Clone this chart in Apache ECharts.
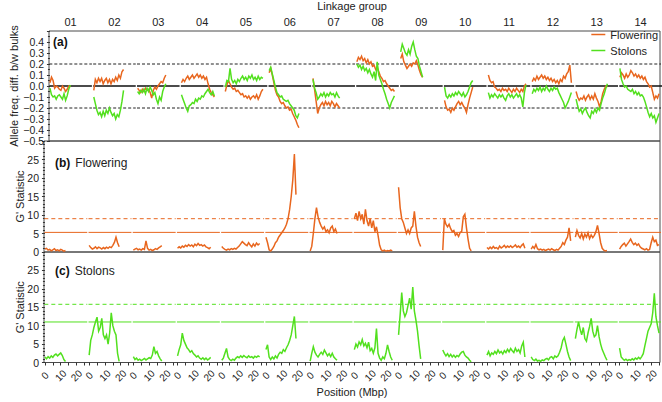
<!DOCTYPE html>
<html>
<head>
<meta charset="utf-8">
<script src="https://cdn.jsdelivr.net/npm/echarts@6/dist/echarts.min.js"></script>
<style>
html,body{margin:0;padding:0;background:#fff;}
#chart{width:662px;height:402px;}
</style>
</head>
<body>
<div id="chart"></div>
<script>
// ---------- data ----------
const groupLabels = ['01','02','03','04','05','06','07','08','09','10','11','12','13','14'];
const SLOT = 28;            // Mbp allotted to each linkage-group facet
const posLabels = [0, 10, 20];
const posTicks = [0, 5, 10, 15, 20, 25];

// Allele frequency difference between bulks, 1 Mbp steps from 0
const freqFlowering = [
  [0.03,0.08,0.05,-0.02,0.00,-0.01,-0.03,-0.04,0.00,-0.02,-0.05,-0.03,0.00,-0.01],
  [-0.04,0.06,0.03,0.07,0.04,0.07,0.02,0.05,0.07,0.03,0.06,0.02,0.06,0.04,0.08,0.05,0.10,0.07,0.13,0.15],
  [-0.02,-0.04,-0.06,-0.03,-0.05,-0.02,-0.04,-0.03,-0.06,-0.11,-0.04,-0.01,-0.03,0.00,0.02,0.04,0.03,0.07,0.10],
  [0.03,0.06,0.04,0.07,0.09,0.06,0.08,0.10,0.07,0.09,0.11,0.08,0.10,0.07,0.09,0.06,0.08,0.02,-0.03,-0.06,-0.08,-0.10],
  [-0.05,0.01,0.05,0.02,-0.01,-0.03,-0.02,-0.05,-0.04,-0.06,-0.08,-0.07,-0.10,-0.09,-0.11,-0.09,-0.12,-0.10,-0.09,-0.11,-0.08,-0.12,-0.09,-0.05,-0.03],
  [0.12,0.16,0.10,0.03,-0.04,-0.08,-0.10,-0.14,-0.16,-0.15,-0.18,-0.20,-0.19,-0.22,-0.21,-0.25,-0.28,-0.31,-0.35,-0.38],
  [0.07,-0.03,-0.14,-0.25,-0.20,-0.17,-0.15,-0.18,-0.14,-0.17,-0.15,-0.18,-0.14,-0.16,-0.19,-0.16,-0.18,-0.20],
  [0.22,0.26,0.24,0.27,0.23,0.25,0.21,0.24,0.20,0.22,0.18,0.19,0.15,0.17,0.13,0.09,0.07,0.04,0.05,0.02,0.00,-0.02,-0.04,-0.03,-0.05],
  [0.25,0.29,0.22,0.19,0.16,0.18,0.20,0.18,0.21,0.20,0.23,0.19,0.14,0.10,0.08],
  [-0.13,-0.19,-0.22,-0.21,-0.24,-0.20,-0.22,-0.19,-0.16,-0.14,-0.17,-0.15,-0.18,-0.20,-0.24,-0.17,-0.11,-0.06,-0.01],
  [0.10,0.05,0.03,0.04,-0.01,-0.02,-0.04,-0.03,-0.05,-0.02,-0.04,-0.03,-0.05,-0.02,-0.04,-0.06,-0.03,-0.05,-0.02,-0.04,-0.06,-0.03,-0.05,0.00,0.02],
  [0.04,0.07,0.05,0.09,0.06,0.08,0.10,0.07,0.09,0.06,0.08,0.05,0.07,0.04,0.06,0.03,0.05,0.02,0.06,0.04,0.09,0.07,0.11,0.13,0.19,0.03],
  [-0.05,-0.10,-0.13,-0.11,-0.12,-0.09,-0.13,-0.10,-0.08,-0.12,-0.09,-0.12,-0.07,-0.11,-0.14,-0.19,-0.14,-0.07,-0.03,0.00,-0.01],
  [0.08,0.12,0.10,0.07,0.11,0.08,0.10,0.14,0.12,0.09,0.11,0.08,0.10,0.07,0.09,0.06,0.08,0.04,0.02,-0.01,0.00,-0.06,-0.12,-0.09,-0.11,-0.07]
];
const freqStolons = [
  [-0.02,-0.08,-0.10,-0.09,-0.12,-0.09,-0.08,-0.10,-0.12,-0.07,-0.13,-0.09,-0.03,0.01],
  [-0.10,-0.16,-0.22,-0.26,-0.24,-0.28,-0.23,-0.27,-0.22,-0.25,-0.20,-0.24,-0.27,-0.25,-0.30,-0.26,-0.28,-0.22,-0.14,-0.04],
  [-0.05,-0.07,-0.04,-0.06,-0.03,-0.07,-0.02,-0.05,-0.01,-0.04,-0.08,-0.06,-0.12,-0.16,-0.10,-0.13,-0.05,-0.01,0.02],
  [-0.08,-0.12,-0.16,-0.20,-0.23,-0.18,-0.17,-0.15,-0.16,-0.12,-0.14,-0.11,-0.12,-0.09,-0.10,-0.07,-0.05,-0.03,-0.06,-0.08,-0.05,-0.09],
  [-0.01,0.05,0.04,0.16,0.06,0.03,0.05,0.02,0.06,0.04,0.07,0.09,0.06,0.08,0.05,0.09,0.07,0.10,0.06,0.08,0.05,0.09,0.06,0.08,0.07],
  [0.14,0.17,0.11,0.05,-0.01,-0.06,-0.08,-0.10,-0.09,-0.12,-0.13,-0.14,-0.13,-0.16,-0.18,-0.20,-0.22,-0.27,-0.29,-0.25],
  [0.06,-0.02,-0.06,-0.12,-0.10,-0.07,-0.09,-0.06,-0.10,-0.07,-0.09,-0.06,-0.08,-0.07,-0.10,-0.06,-0.09,-0.11],
  [0.20,0.17,0.19,0.15,0.18,0.14,0.16,0.12,0.15,0.11,0.08,0.13,0.05,0.22,0.10,0.06,0.02,-0.03,-0.07,-0.12,-0.16,-0.20,-0.15,-0.12,-0.09],
  [0.31,0.38,0.34,0.30,0.28,0.33,0.29,0.36,0.40,0.33,0.27,0.25,0.18,0.13,0.08],
  [-0.01,-0.09,-0.11,-0.08,-0.10,-0.07,-0.09,-0.06,-0.08,-0.05,-0.07,-0.09,-0.06,-0.10,-0.08,-0.05,-0.01,0.03,0.05],
  [-0.06,-0.11,-0.08,-0.10,-0.07,-0.09,-0.11,-0.08,-0.10,-0.08,-0.11,-0.13,-0.09,-0.07,-0.10,-0.08,-0.11,-0.09,-0.07,-0.10,-0.08,-0.11,-0.19,-0.06,0.01],
  [-0.07,-0.03,-0.05,-0.02,-0.04,-0.01,-0.05,-0.02,-0.04,0.00,-0.03,-0.05,-0.02,-0.04,-0.01,-0.03,-0.02,-0.06,-0.09,-0.12,-0.15,-0.20,-0.17,-0.14,-0.10,-0.06],
  [-0.12,-0.18,-0.23,-0.21,-0.25,-0.22,-0.20,-0.24,-0.27,-0.29,-0.23,-0.25,-0.21,-0.24,-0.20,-0.22,-0.16,-0.11,-0.07,-0.02,0.02],
  [0.16,0.06,0.02,-0.01,0.00,-0.03,-0.04,-0.05,-0.03,-0.07,-0.05,-0.08,-0.06,-0.09,-0.08,-0.10,-0.14,-0.19,-0.24,-0.28,-0.25,-0.29,-0.27,-0.33,-0.29,-0.25]
];

// G' statistic, 1 Mbp steps from 0
const gFlowering = [
  [0.8,1.0,0.5,0.7,0.3,0.6,0.9,0.4,0.6,0.3,0.7,0.5,0.2,0.4],
  [1.8,1.2,0.8,1.0,1.4,0.9,1.3,1.1,0.8,1.2,0.9,1.3,1.0,1.4,1.2,1.8,2.6,4.0,2.5,1.4],
  [0.5,0.8,1.0,0.6,0.8,0.5,0.9,0.7,3.0,1.0,0.5,0.7,0.4,0.6,0.9,0.7,1.1,1.4,1.7],
  [1.0,1.4,1.1,1.6,1.3,1.8,1.5,2.0,1.6,1.9,1.4,2.1,1.7,2.3,1.8,2.0,1.6,1.9,1.4,1.2,0.9,1.3],
  [1.5,1.0,0.7,0.5,0.8,0.6,0.9,0.7,1.0,0.8,1.2,1.6,2.2,2.8,2.4,2.0,1.7,2.5,1.9,1.4,2.2,1.6,2.4,1.9,2.3],
  [4.0,2.5,0.6,0.3,0.8,1.5,2.5,3.0,4.0,4.6,5.2,5.8,6.5,7.5,9.0,11.5,15.0,19.5,26.5,15.5],
  [0.3,1.5,5.0,9.0,12.0,9.5,8.0,7.0,6.2,6.8,5.5,6.0,5.2,6.5,7.0,5.5,6.2,5.0],
  [9.0,10.5,8.5,11.0,9.0,10.2,7.5,11.5,8.5,7.0,9.0,6.5,8.5,5.5,6.8,4.5,1.8,0.6,0.3,0.5,0.2,0.4,0.3,0.5,0.3],
  [17.5,12.0,9.0,8.0,6.5,5.0,6.0,5.0,6.5,7.0,11.0,7.0,4.0,2.5,1.5],
  [0.5,9.0,7.5,6.8,7.5,6.3,5.5,5.8,4.5,5.0,4.2,5.3,5.6,9.5,10.2,6.5,3.5,1.0,0.3],
  [1.2,0.8,1.3,0.9,1.5,1.0,1.2,0.8,1.6,1.1,1.4,1.8,1.2,1.6,1.3,1.7,1.2,1.5,1.9,1.3,1.6,1.2,1.8,2.2,1.0],
  [0.8,1.5,1.0,2.0,0.9,0.6,0.8,0.5,0.7,0.4,0.6,0.8,0.5,0.9,0.6,0.4,0.7,0.5,1.0,1.5,2.5,2.0,3.2,4.0,6.5,3.0],
  [4.0,5.8,4.5,3.8,5.0,3.5,4.8,4.0,5.2,3.6,4.6,3.9,4.5,5.5,7.2,5.0,2.5,1.0,0.5,0.3,0.4],
  [0.8,1.5,2.0,2.4,1.6,2.2,2.8,3.5,2.6,2.0,2.4,1.8,2.2,1.4,1.0,0.8,0.6,0.9,0.5,0.7,2.5,4.0,2.8,3.2,1.8,2.0]
];
const gStolons = [
  [1.5,1.0,1.6,1.2,1.8,1.4,2.0,2.3,1.8,2.2,2.6,1.9,0.8,0.3],
  [2.0,6.0,7.5,9.5,11.0,12.3,8.5,9.5,12.0,7.5,6.5,7.5,5.0,8.0,13.5,10.0,8.5,7.5,2.5,0.3],
  [1.6,0.8,1.2,0.6,0.9,0.5,0.8,1.1,0.7,1.0,1.3,1.1,2.0,4.3,2.5,3.0,1.8,1.0,0.4],
  [1.8,3.5,4.8,8.0,6.0,5.0,4.0,3.5,2.8,3.2,2.4,2.0,1.5,1.8,1.2,0.9,1.3,0.8,1.2,0.7,1.0,1.4],
  [0.6,1.2,2.5,3.8,1.5,0.8,0.5,0.9,0.6,1.2,1.6,1.3,1.8,1.4,1.9,1.5,1.3,1.8,1.4,1.6,1.2,1.7,1.4,1.8,1.5],
  [3.5,4.8,1.5,0.8,1.5,1.0,1.8,1.2,2.2,2.8,2.5,3.5,3.0,4.0,4.8,6.0,7.5,10.0,12.5,6.5],
  [0.4,2.5,4.3,2.8,2.0,1.5,2.2,2.8,2.2,3.4,2.6,1.8,2.4,1.6,2.5,1.5,1.0,0.6],
  [3.5,5.0,4.2,5.6,4.8,6.2,4.5,5.2,4.0,5.5,3.2,3.8,2.5,4.0,9.2,2.5,1.2,0.6,1.5,1.0,2.5,4.8,3.0,1.5,0.6],
  [7.5,13.0,19.0,14.0,12.5,13.5,15.5,17.5,14.5,20.5,14.0,11.5,8.5,4.5,1.0],
  [3.4,2.5,1.8,2.4,1.6,2.2,1.5,2.0,1.4,1.9,1.6,2.3,2.8,3.0,2.0,1.5,1.2,0.6,0.2],
  [2.0,3.0,1.8,2.6,2.2,3.0,2.4,3.4,2.6,3.0,2.3,3.2,2.7,3.6,2.9,3.8,3.2,2.7,3.9,3.0,3.5,2.6,4.5,5.5,1.5],
  [1.5,0.8,0.5,0.9,0.4,0.6,0.3,0.7,0.5,0.9,1.1,0.7,1.4,1.6,1.0,1.8,1.4,1.8,2.8,4.0,6.0,6.8,5.0,3.0,1.5,0.5],
  [6.5,9.0,11.0,9.0,7.5,9.5,6.5,5.8,8.0,9.8,12.0,8.5,7.0,7.5,10.0,7.0,5.0,3.5,2.5,1.5,0.6],
  [3.9,1.5,1.0,0.6,0.9,0.5,0.8,0.6,1.0,0.7,1.2,0.9,1.4,1.0,1.6,2.4,4.5,6.5,8.5,9.5,10.5,13.5,18.8,12.5,10.0,8.0]
];

// reference lines
const freqZero = 0;
const freqThresholds = [0.2, -0.2];
const floweringThresholds = { solid: 5.3, dashed: 9.0 };
const stolonsThresholds = { solid: 11.0, dashed: 15.8 };

// ---------- build ----------
const NG = groupLabels.length;
const XMIN = -0.6, XMAX = 389.6;
const ORANGE = '#E8661E', GREEN = '#52E01E';
const FONT = 'Liberation Sans, Arial, Helvetica, sans-serif';

function buildLine(groups) {
  const out = [];
  groups.forEach((vals, g) => {
    vals.forEach((v, i) => out.push([g * SLOT + i, v]));
    out.push([g * SLOT + vals.length - 0.5, null]);
  });
  return out;
}
function buildSegs(y) {
  const out = [];
  for (let g = 0; g < NG; g++) {
    const a = g * SLOT - 0.4, b = (g === NG - 1) ? XMAX + 5 : g * SLOT + 26.8;
    out.push([a, y], [b, y], [b + 0.1, null]);
  }
  return out;
}
const tickVals = [], labelVals = [], centerVals = [];
for (let g = 0; g < NG; g++) {
  posTicks.forEach(p => tickVals.push(g * SLOT + p));
  posLabels.forEach(p => labelVals.push(g * SLOT + p));
  centerVals.push(g * SLOT + 13.2);
}

function segSeries(name, xi, yi, y, color, type, width) {
  return { name, type: 'line', xAxisIndex: xi, yAxisIndex: yi, data: buildSegs(y),
    symbol: 'none', silent: true, connectNulls: false, z: 1,
    lineStyle: { color, width, type } };
}
function dataSeries(name, xi, yi, groups, color) {
  return { name, type: 'line', xAxisIndex: xi, yAxisIndex: yi, data: buildLine(groups),
    symbol: 'none', showSymbol: false, connectNulls: false, z: 3,
    lineStyle: { color, width: 1.5, join: 'miter' }, itemStyle: { color } };
}

const hiddenX = (gi) => ({ type: 'value', gridIndex: gi, min: XMIN, max: XMAX, show: false });
const axisTextColor = '#222';
const gridBase = { left: 44, right: 2, show: true, borderColor: '#4a4a4a', borderWidth: 1 };
const panelRich = {
  b: { fontWeight: 'bold', fontSize: 12, color: '#111', fontFamily: FONT },
  n: { fontWeight: 'normal', fontSize: 12, color: '#222', fontFamily: FONT }
};

const option = {
  animation: false,
  textStyle: { fontFamily: FONT },
  grid: [
    Object.assign({ top: 31, height: 110 }, gridBase),
    Object.assign({ top: 141, height: 111 }, gridBase),
    Object.assign({ top: 252, height: 110.5 }, gridBase)
  ],
  title: [
    { text: 'Linkage group', left: 352, top: 0, padding: 0, textAlign: 'center',
      textStyle: { fontSize: 11, fontWeight: 'normal', color: axisTextColor, fontFamily: FONT } },
    { text: '{b|(a)}', left: 53, top: 36, padding: 0,
      textStyle: { fontWeight: 'normal', rich: panelRich } },
    { text: '{b|(b)} {n|Flowering}', left: 55, top: 154, padding: 0,
      textStyle: { fontWeight: 'normal', rich: panelRich } },
    { text: '{b|(c)} {n|Stolons}', left: 55, top: 262, padding: 0,
      textStyle: { fontWeight: 'normal', rich: panelRich } }
  ],
  legend: {
    data: ['Flowering', 'Stolons'], orient: 'vertical', right: 4, top: 29, padding: 0,
    icon: 'rect', itemWidth: 14, itemHeight: 1.5, itemGap: 5,
    textStyle: { fontSize: 11, color: axisTextColor, fontFamily: FONT }
  },
  xAxis: [
    hiddenX(0), hiddenX(1),
    { type: 'value', gridIndex: 2, min: XMIN, max: XMAX,
      axisLine: { show: false }, splitLine: { show: false },
      axisTick: { show: true, inside: false, length: 3, customValues: tickVals, lineStyle: { color: '#333' } },
      axisLabel: { customValues: labelVals, rotate: 45, align: 'center', verticalAlign: 'middle', margin: 13,
        fontSize: 10, color: axisTextColor, fontFamily: FONT,
        formatter: v => String(Math.round(v - Math.floor((v + 1) / SLOT) * SLOT)) },
      name: 'Position (Mbp)', nameLocation: 'middle', nameGap: 24,
      nameTextStyle: { fontSize: 11, color: axisTextColor, fontFamily: FONT } },
    { type: 'value', gridIndex: 0, position: 'top', min: XMIN, max: XMAX,
      axisLine: { show: false }, axisTick: { show: false }, splitLine: { show: false },
      axisLabel: { customValues: centerVals, margin: 4, fontSize: 11, color: axisTextColor, fontFamily: FONT,
        formatter: v => groupLabels[Math.floor(v / SLOT)] } }
  ],
  yAxis: [
    { type: 'value', gridIndex: 0, min: -0.5, max: 0.5, interval: 0.1,
      axisLine: { show: false }, splitLine: { show: false },
      axisTick: { show: true, inside: false, length: 3, lineStyle: { color: '#333' } },
      minorTick: { show: true, splitNumber: 2, length: 2, lineStyle: { color: '#333' } },
      axisLabel: { showMaxLabel: false, margin: 5, fontSize: 10.5, color: axisTextColor, fontFamily: FONT,
        formatter: v => { const r = Math.round(v * 10); return r < 0 ? '\u2212' + (Math.abs(r) / 10).toFixed(1) : (r / 10).toFixed(1); } },
      name: 'Allele freq. diff. b/w bulks', nameLocation: 'middle', nameGap: 30, nameMoveOverlap: false,
      nameTextStyle: { fontSize: 11, color: axisTextColor, fontFamily: FONT } },
    { type: 'value', gridIndex: 1, min: 0, max: 30, interval: 5,
      axisLine: { show: false }, splitLine: { show: false },
      axisTick: { show: true, inside: false, length: 3, lineStyle: { color: '#333' } },
      minorTick: { show: true, splitNumber: 5, length: 2, lineStyle: { color: '#333' } },
      axisLabel: { showMaxLabel: false, margin: 5, fontSize: 10.5, color: axisTextColor, fontFamily: FONT },
      name: "G' Statistic", nameLocation: 'middle', nameGap: 19, nameMoveOverlap: false,
      nameTextStyle: { fontSize: 11, color: axisTextColor, fontFamily: FONT } },
    { type: 'value', gridIndex: 2, min: 0, max: 30, interval: 5,
      axisLine: { show: false }, splitLine: { show: false },
      axisTick: { show: true, inside: false, length: 3, lineStyle: { color: '#333' } },
      minorTick: { show: true, splitNumber: 5, length: 2, lineStyle: { color: '#333' } },
      axisLabel: { showMaxLabel: false, margin: 5, fontSize: 10.5, color: axisTextColor, fontFamily: FONT },
      name: "G' Statistic", nameLocation: 'middle', nameGap: 19, nameMoveOverlap: false,
      nameTextStyle: { fontSize: 11, color: axisTextColor, fontFamily: FONT } }
  ],
  series: [
    segSeries('zero', 0, 0, freqZero, '#111', 'solid', 1.3),
    segSeries('thrUp', 0, 0, freqThresholds[0], '#222', [3, 2], 1),
    segSeries('thrDown', 0, 0, freqThresholds[1], '#222', [3, 2], 1),
    dataSeries('Flowering', 0, 0, freqFlowering, ORANGE),
    dataSeries('Stolons', 0, 0, freqStolons, GREEN),
    segSeries('flSolid', 1, 1, floweringThresholds.solid, ORANGE, 'solid', 1),
    segSeries('flDashed', 1, 1, floweringThresholds.dashed, ORANGE, [4, 3], 1),
    dataSeries("Flowering G'", 1, 1, gFlowering, ORANGE),
    segSeries('stSolid', 2, 2, stolonsThresholds.solid, GREEN, 'solid', 1),
    segSeries('stDashed', 2, 2, stolonsThresholds.dashed, GREEN, [4, 3], 1),
    dataSeries("Stolons G'", 2, 2, gStolons, GREEN)
  ]
};

const chart = echarts.init(document.getElementById('chart'), null, { renderer: 'svg' });
chart.setOption(option);
</script>
</body>
</html>
